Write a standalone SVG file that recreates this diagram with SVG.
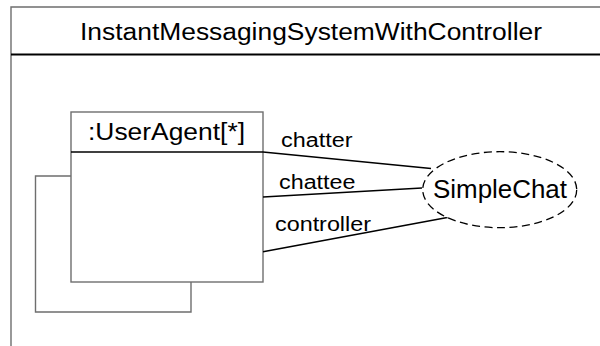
<svg xmlns="http://www.w3.org/2000/svg" width="600" height="346" viewBox="0 0 600 346">
  <style>
    .frame { fill: none; stroke: #6e6e6e; stroke-width: 1.4; }
    .rule { fill: none; stroke: #000; stroke-width: 2; }
    .conn { fill: none; stroke: #000; stroke-width: 1.5; }
    .collab { fill: #fff; stroke: #000; stroke-width: 1.3; stroke-dasharray: 8 4.5; }
    text { font-family: "Liberation Sans", Arial, sans-serif; fill: #000; }
    .title { font-size: 23px; }
    .part { font-size: 23px; }
    .role { font-size: 19.5px; }
    .use { font-size: 25px; }
  </style>
  <rect width="600" height="346" fill="#fff"/>

  <!-- enclosing structured classifier -->
  <g id="system">
    <path class="frame" d="M11,346 V7 H601"/>
    <line class="rule" x1="11" y1="54.5" x2="601" y2="54.5"/>
    <text class="title" x="80" y="39.5" textLength="462" lengthAdjust="spacingAndGlyphs">InstantMessagingSystemWithController</text>
  </g>

  <!-- multi-instance part -->
  <g id="userAgent">
    <path class="frame" d="M71,176 H35.5 V312 H191 V282"/>
    <rect class="frame" x="71" y="112" width="192" height="170" fill="#fff"/>
    <line x1="71" y1="152" x2="263" y2="152" stroke="#000" stroke-width="1.6"/>
    <text class="part" x="88" y="140" textLength="157" lengthAdjust="spacingAndGlyphs">:UserAgent[*]</text>
  </g>

  <!-- role bindings -->
  <g id="connectors">
    <line class="conn" x1="263" y1="152" x2="431" y2="168.5"/>
    <line class="conn" x1="263" y1="197" x2="422" y2="188"/>
    <line class="conn" x1="263" y1="251.7" x2="450" y2="217"/>
    <text class="role" x="281" y="146.7" textLength="71.5" lengthAdjust="spacingAndGlyphs">chatter</text>
    <text class="role" x="279" y="189" textLength="76.5" lengthAdjust="spacingAndGlyphs">chattee</text>
    <text class="role" x="275" y="230.7" textLength="96" lengthAdjust="spacingAndGlyphs">controller</text>
  </g>

  <!-- collaboration use -->
  <g id="simpleChat">
    <ellipse class="collab" cx="499.7" cy="189.7" rx="77" ry="38" fill="none"/>
    <text class="use" x="433" y="198.3" textLength="134" lengthAdjust="spacingAndGlyphs">SimpleChat</text>
  </g>
</svg>
